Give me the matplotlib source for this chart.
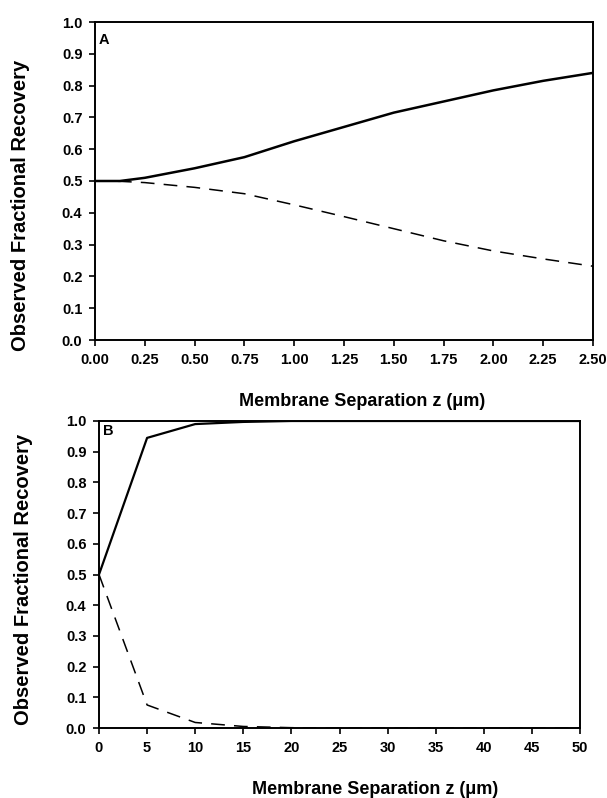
import matplotlib
matplotlib.use("Agg")
import matplotlib.pyplot as plt
import numpy as np

plt.rcParams['font.family'] = ['Liberation Sans', 'DejaVu Sans']

# Panel A data
za = [0.0, 0.125, 0.25, 0.5, 0.75, 1.0, 1.25, 1.5, 1.75, 2.0, 2.25, 2.5]
a_solid = [0.50, 0.50, 0.51, 0.54, 0.575, 0.625, 0.67, 0.715, 0.75, 0.785, 0.815, 0.84]
a_dashed = [0.50, 0.499, 0.495, 0.48, 0.46, 0.425, 0.388, 0.35, 0.312, 0.28, 0.255, 0.232]

# Panel B data
zb = [0, 5, 10, 15, 20, 25, 30, 35, 40, 45, 50]
b_solid = [0.50, 0.945, 0.99, 0.997, 1.0, 1.0, 1.0, 1.0, 1.0, 1.0, 1.0]
b_dashed = [0.50, 0.075, 0.018, 0.005, 0.001, 0.0, 0.0, 0.0, 0.0, 0.0, 0.0]

xticks_a = [0.0, 0.25, 0.5, 0.75, 1.0, 1.25, 1.5, 1.75, 2.0, 2.25, 2.5]
xticks_b = [0, 5, 10, 15, 20, 25, 30, 35, 40, 45, 50]
yticks = [0.0, 0.1, 0.2, 0.3, 0.4, 0.5, 0.6, 0.7, 0.8, 0.9, 1.0]

W, H = 607, 798
fig = plt.figure(figsize=(W / 100, H / 100), dpi=100)

axA = fig.add_axes([95 / W, 1 - 340 / H, 498 / W, 318 / H])
axB = fig.add_axes([99 / W, 1 - 728 / H, 481 / W, 307 / H])

def style(ax, xticks, fmt):
    ax.set_ylim(0, 1.0)
    ax.set_yticks(yticks)
    ax.set_yticklabels([f"{v:.1f}" for v in yticks])
    ax.set_xticks(xticks)
    ax.set_xticklabels([fmt(v) for v in xticks])
    ax.tick_params(direction='out', length=4, width=1.2, labelsize=10.5, pad=5)
    for lab in ax.get_xticklabels() + ax.get_yticklabels():
        lab.set_fontweight('bold')
    for sp in ax.spines.values():
        sp.set_linewidth(1.4)

axA.plot(za, a_solid, color='black', lw=1.8)
axA.plot(za, a_dashed, color='black', lw=1.1, dashes=(9, 6))
axA.set_xlim(0, 2.5)
style(axA, xticks_a, lambda v: f"{v:.2f}")
axA.text(0.008, 0.965, "A", transform=axA.transAxes, fontsize=10.5, fontweight='bold',
         va='top', ha='left')

axB.plot(zb, b_solid, color='black', lw=1.6)
axB.plot(zb, b_dashed, color='black', lw=1.1, dashes=(9, 6))
axB.set_xlim(0, 50)
style(axB, xticks_b, lambda v: f"{v:d}")
axB.text(0.008, 0.99, "B", transform=axB.transAxes, fontsize=10.5, fontweight='bold',
         va='top', ha='left')

xlab_kw = dict(fontsize=13, fontweight='bold', ha='center', va='center')
ylab_kw = dict(fontsize=14.5, fontweight='bold', ha='center', va='center', rotation=90)
fig.text(362 / W, 1 - 401 / H, "Membrane Separation z (\u03bcm)", **xlab_kw)
fig.text(375 / W, 1 - 789 / H, "Membrane Separation z (\u03bcm)", **xlab_kw)
fig.text(21 / W, 1 - 205 / H, "Observed Fractional Recovery", **ylab_kw)
fig.text(24 / W, 1 - 579 / H, "Observed Fractional Recovery", **ylab_kw)

fig.savefig("out.png", dpi=100)
